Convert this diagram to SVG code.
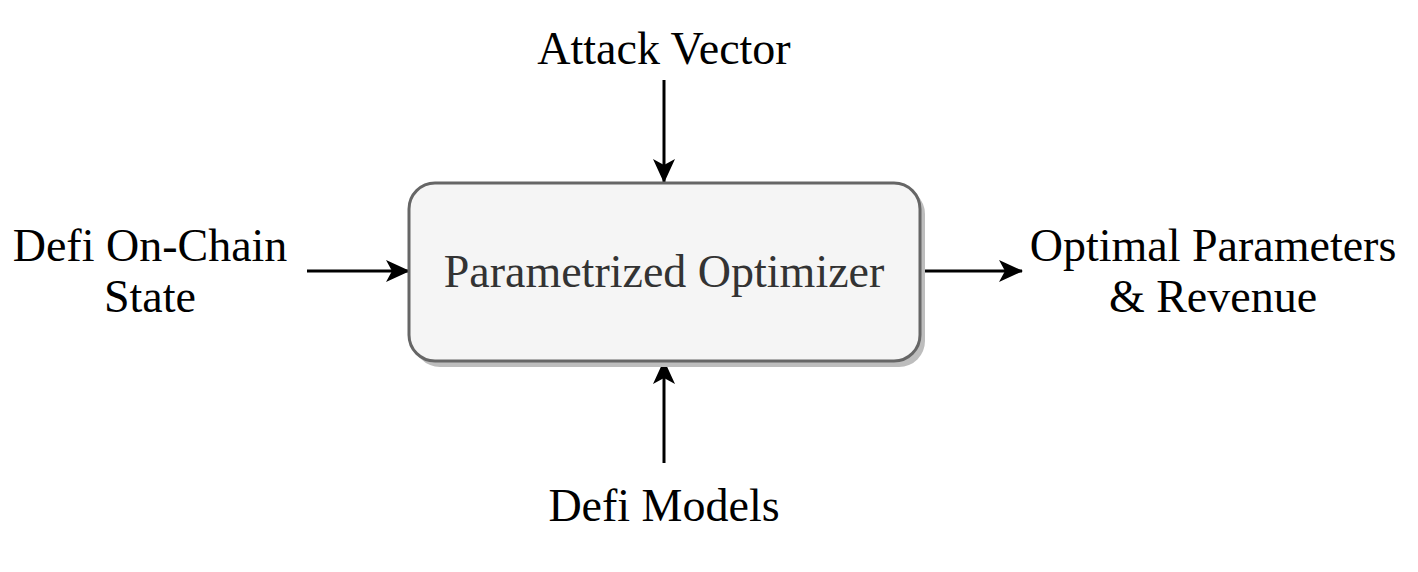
<svg xmlns="http://www.w3.org/2000/svg" width="1418" height="572" viewBox="0 0 1418 572">
<style>
.t{font-family:"Liberation Serif","Times New Roman",serif;font-size:46px;fill:#000;text-anchor:middle}
.c{stroke:#000;stroke-width:3;fill:none}
</style>
<defs>
<marker id="a" viewBox="0 0 24 22" refX="23" refY="11" markerWidth="24" markerHeight="22" markerUnits="userSpaceOnUse" orient="auto">
<path d="M0,0 L24,11 L0,22 L6,11 Z" fill="#000"/>
</marker>
</defs>
<rect width="1418" height="572" fill="#fff"/>
<g id="connectors">
<line class="c" x1="664" y1="80" x2="664" y2="182" marker-end="url(#a)"/>
<line class="c" x1="664" y1="463" x2="664" y2="361" marker-end="url(#a)"/>
<line class="c" x1="307" y1="271" x2="409" y2="271" marker-end="url(#a)"/>
<line class="c" x1="920" y1="271" x2="1022" y2="271" marker-end="url(#a)"/>
</g>
<g id="optimizer">
<rect x="414" y="188" width="511" height="179" rx="26" fill="#bdbdbd"/>
<rect x="409" y="183" width="511" height="178" rx="26" fill="#f5f5f5" stroke="#666" stroke-width="3"/>
<text class="t" x="664" y="287" style="fill:#333">Parametrized Optimizer</text>
</g>
<g id="attack"><text class="t" x="664" y="64">Attack Vector</text></g>
<g id="models"><text class="t" x="664" y="521">Defi Models</text></g>
<g id="state"><text class="t" x="150" y="261">Defi On-Chain</text><text class="t" x="150" y="312">State</text></g>
<g id="output"><text class="t" x="1213" y="261">Optimal Parameters</text><text class="t" x="1213" y="312">&amp; Revenue</text></g>
</svg>
